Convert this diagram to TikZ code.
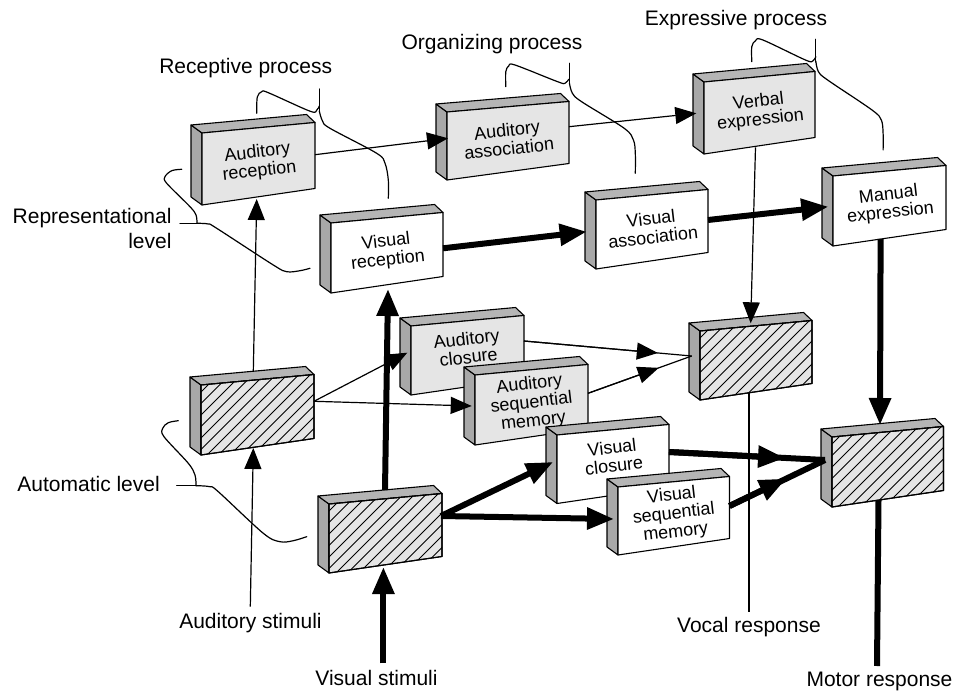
\documentclass[tikz,border=0pt]{standalone}
\usepackage{fontspec}
\setmainfont{Liberation Sans}
\usetikzlibrary{arrows.meta,calc}

\definecolor{facegray}{gray}{0.9}
\definecolor{topgray}{gray}{0.71}
\definecolor{sidegray}{gray}{0.66}

\tikzset{
  edge/.style={draw=black, line width=1.1pt, line join=round},
  boxtext/.style={font=\fontsize{18}{18.5}\selectfont, align=center, rotate=6.5, inner sep=0pt},
  lbl/.style={font=\fontsize{21}{25}\selectfont, inner sep=0pt},
  thinline/.style={line width=1.2pt},
  thinarrow/.style={line width=1.2pt, -{Triangle[length=21pt,width=17pt]}},
  thickline/.style={line width=6pt},
  thickarrow/.style={line width=6pt, -{Triangle[length=27pt,width=21pt]}},
  brace/.style={line width=1.2pt, line cap=round, line join=round},
  hatchline/.style={line width=0.9pt},
}

% 3-D block: name, front top-left x, y, width, left height, front fill, text, text shift
\newcommand\cubebox[8]{%
  \begin{scope}[shift={(#2,#3)}]
    \filldraw[edge, fill=sidegray] (0,0) -- (0,#5) -- (-11,#5-8) -- (-11,-8) -- cycle;
    \filldraw[edge, fill=topgray] (0,0) -- (#4,-10.5) -- (#4-8.5,-18.5) -- (-11,-8) -- cycle;
    \filldraw[edge, fill=#6] (0,0) -- (#4,-10.5) -- (#4,#5-16.5) -- (0,#5) -- cycle;
    \node[boxtext] (#1) at (#4/2,{(2*#5-27)/4+#8}) {#7};
  \end{scope}}

% hatched block: name, front top-left x, y, width, left height
\newcommand\hatchbox[5]{%
  \cubebox{#1}{#2}{#3}{#4}{#5}{facegray}{}{0}
  \begin{scope}[shift={(#2,#3)}]
    \begin{scope}
      \clip (0,0) -- (#4,-10.5) -- (#4,#5-16.5) -- (0,#5) -- cycle;
      \foreach \k in {-96,-84.5,...,116}
        \draw[hatchline] (\k,80) -- ++(100,-100);
    \end{scope}
    \draw[edge] (0,0) -- (#4,-10.5) -- (#4,#5-16.5) -- (0,#5) -- cycle;
  \end{scope}}

\begin{document}
\begin{tikzpicture}[x=1pt,y=-1pt]
\useasboundingbox (0,0) rectangle (969,692);

% ---- blocks ----
\cubebox{audrec}{202}{133}{113}{72}{facegray}{Auditory\\reception}{0}
\cubebox{audassoc}{447}{112}{122}{68}{facegray}{Auditory\\association}{0}
\cubebox{verbal}{704}{82}{111}{72}{facegray}{Verbal\\expression}{0}
\cubebox{visrec}{331}{223}{112}{70}{white}{Visual\\reception}{0}
\cubebox{visassoc}{596}{200}{112}{69}{white}{Visual\\association}{0}
\cubebox{manual}{833}{176}{113}{70}{white}{Manual\\expression}{0}
\hatchbox{audauto}{201}{385}{113}{70}
\cubebox{audclos}{411}{326}{113}{69}{facegray}{Auditory\\closure}{-6}
\cubebox{audseq}{475}{375}{113}{70}{facegray}{Auditory\\sequential\\memory}{0}
\hatchbox{vocal}{700}{331}{112}{69}
\cubebox{visclos}{557}{435}{112}{68.5}{white}{Visual\\closure}{-6}
\cubebox{visseq}{618}{487}{111.5}{68}{white}{Visual\\sequential\\memory}{0}
\hatchbox{visauto}{329}{504}{113}{69}
\hatchbox{motor}{832}{437}{111.5}{70}

% ---- connection points ----
\coordinate (audrec-out) at (315,154.7);
\coordinate (audassoc-in) at (448,138.3);
\coordinate (audassoc-out) at (569,126.7);
\coordinate (verbal-in) at (696.3,113.3);
\coordinate (verbal-down) at (755.5,147.3);
\coordinate (vocal-top) at (750.7,323.3);
\coordinate (visrec-out) at (443,248.3);
\coordinate (visassoc-in) at (586.7,231.7);
\coordinate (visassoc-out) at (708,220);
\coordinate (manual-in) at (828.3,206.7);
\coordinate (manual-down) at (880.6,239);
\coordinate (motor-top) at (880,425);
\coordinate (audauto-up) at (253.3,371.5);
\coordinate (audrec-bot) at (256.7,199);
\coordinate (audstim) at (250.3,606.7);
\coordinate (audauto-bot) at (253.3,448);
\coordinate (visstim) at (383.4,663.3);
\coordinate (visauto-bot) at (383.4,567);
\coordinate (visauto-up) at (385,490);
\coordinate (visrec-bot) at (388,289);
\coordinate (audauto-out) at (314,401.3);
\coordinate (audclos-in) at (407.3,352.7);
\coordinate (audseq-in) at (471.7,406);
\coordinate (audclos-out) at (524,341);
\coordinate (audseq-out) at (588,393.3);
\coordinate (vocal-in) at (691.7,356);
\coordinate (visauto-out) at (441,516);
\coordinate (visclos-in) at (553.2,462);
\coordinate (visseq-in) at (614,519);
\coordinate (visclos-out) at (669,452);
\coordinate (visseq-out) at (729.5,506);
\coordinate (motor-in) at (825,460);
\coordinate (vocal-bot) at (749,393);
\coordinate (vocalresp) at (749,611.7);
\coordinate (motor-bot) at (878.5,500);
\coordinate (motorresp) at (877,666);

% ---- auditory channel ----
\draw[thinarrow] (audrec-out) -- (audassoc-in);
\draw[thinarrow] (audassoc-out) -- (verbal-in);
\draw[thinarrow] (verbal-down) -- (vocal-top);
\draw[thinarrow] (audauto-up) -- (audrec-bot);
\draw[thinarrow] (audstim) -- (audauto-bot);
\draw[thinarrow] (audauto-out) -- (audclos-in);
\draw[thinarrow] (audauto-out) -- (audseq-in);
\draw[thinline] (audclos-out) -- (vocal-in);
\draw[thinarrow] (audclos-out) -- ($(vocal-in)!34pt!(audclos-out)$);
\draw[thinline] (audseq-out) -- (vocal-in);
\draw[thinarrow] (audseq-out) -- ($(vocal-in)!35pt!(audseq-out)$);
\draw[thinline] (vocal-bot) -- (vocalresp);

% ---- visual channel ----
\draw[thickarrow] (visrec-out) -- (visassoc-in);
\draw[thickarrow] (visassoc-out) -- (manual-in);
\draw[thickarrow] (manual-down) -- (motor-top);
\draw[thickarrow] (visstim) -- (visauto-bot);
\draw[thickarrow] (visauto-up) -- (visrec-bot);
\draw[thickarrow] (visauto-out) -- (visclos-in);
\draw[thickarrow] (visauto-out) -- (visseq-in);
\draw[thickline] (visclos-out) -- (motor-in);
\draw[thickarrow] (visclos-out) -- ($(motor-in)!40pt!(visclos-out)$);
\draw[thickline] (visseq-out) -- (motor-in);
\draw[thickarrow] (visseq-out) -- ($(motor-in)!43pt!(visseq-out)$);
\draw[thickline] (motor-bot) -- (motorresp);

% ---- braces ----
% receptive process
\draw[brace] plot[smooth, tension=0.55] coordinates {(256.7,113.3) (257.3,97) (261.7,91.7) (268.3,92.7) (310,111.2) (316.7,110.2) (319.3,106)};
\draw[brace] (319.3,112) -- (319.3,89);
\draw[brace] plot[smooth, tension=0.55] coordinates {(319.3,111) (322.5,121) (330,128.3) (376.7,153.3) (385,163.3) (388.3,180) (388.3,198.3)};
% organizing process
\draw[brace] plot[smooth, tension=0.55] coordinates {(505.8,86.7) (505.8,71.7) (508.7,66) (515,65) (557.6,81.7) (565,83.3) (568.7,79.3)};
\draw[brace] (569.4,84) -- (569.4,63.3);
\draw[brace] plot[smooth, tension=0.55] coordinates {(569.4,83) (572.4,93.3) (581.6,101.7) (624.2,128.3) (633.4,140) (635.3,153.3) (635.3,173.3)};
% expressive process
\draw[brace] plot[smooth, tension=0.55] coordinates {(751.8,61.7) (751.8,46.7) (755.5,40.7) (762.9,40) (805.4,60) (812.8,61) (815.8,56.7)};
\draw[brace] (815.8,62) -- (815.8,39.3);
\draw[brace] plot[smooth, tension=0.55] coordinates {(815.8,61) (818.4,71.7) (827.6,80) (872,110) (881.3,120) (883.1,133.3) (883.1,150)};
% representational level
\draw[brace] plot[smooth, tension=0.55] coordinates {(181.7,169.3) (171.7,170.7) (165,176.7) (166.7,183.3) (190,206.7) (196,215) (197,223.3)};
\draw[brace] (180,223.3) -- (198,223.3);
\draw[brace] plot[smooth, tension=0.55] coordinates {(197,223.3) (208.3,224) (216.7,228.3) (273.3,265) (286.7,271.7) (300,270.7) (310,268.3)};
% automatic level
\draw[brace] plot[smooth, tension=0.55] coordinates {(178.3,420.7) (168.3,422.7) (162.7,428.3) (164,436.7) (188.3,463.3) (195,475) (196,485.7)};
\draw[brace] (176.7,485.7) -- (196,485.7);
\draw[brace] plot[smooth, tension=0.55] coordinates {(196,485.7) (210,486.7) (218.3,491.7) (263.3,533.3) (280,541.7) (293.3,540.7) (306.7,536.7)};

% ---- labels ----
\node[lbl, anchor=base] (receptive) at (245.7,74) {Receptive process};
\node[lbl, anchor=base] (organizing) at (492,49.5) {Organizing process};
\node[lbl, anchor=base] (expressive) at (736,26) {Expressive process};
\node[lbl, anchor=base east] (repr) at (171.7,223.3) {Representational};
\node[lbl, anchor=base east] (reprlevel) at (171.7,248.3) {level};
\node[lbl, anchor=base east] (auto) at (160,491.7) {Automatic level};
\node[lbl, anchor=base] (audstimtext) at (250.5,628) {Auditory stimuli};
\node[lbl, anchor=base] (visstimtext) at (376.5,685) {Visual stimuli};
\node[lbl, anchor=base] (vocaltext) at (749,632) {Vocal response};
\node[lbl, anchor=base] (motortext) at (879.5,686.5) {Motor response};
\end{tikzpicture}
\end{document}
